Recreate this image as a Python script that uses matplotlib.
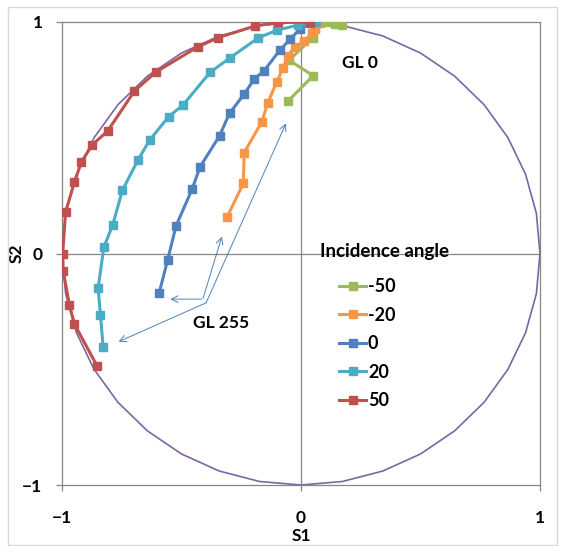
import numpy as np
import matplotlib.pyplot as plt
from matplotlib.patches import Rectangle

plt.rcParams['font.family'] = ['Lato', 'DejaVu Sans']
plt.rcParams['font.weight'] = 'bold'

# incidence angles and their series colours
angles = ['-50', '-20', '0', '20', '50']
colors = ['#9BBB59', '#F79646', '#4F81BD', '#4BACC6', '#C0504D']

# S1 / S2 per incidence angle, from GL 0 (top) to GL 255
s1_m50 = [0.172, 0.142, 0.107, 0.08, 0.06, 0.05, -0.05, 0.051, -0.053]
s2_m50 = [0.987, 0.993, 0.998, 0.995, 0.97, 0.933, 0.835, 0.768, 0.66]

s1_m20 = [0.072, 0.058, 0.045, 0.014, -0.025, -0.056, -0.074, -0.101, -0.139, -0.164, -0.238, -0.241, -0.310]
s2_m20 = [0.997, 0.973, 0.951, 0.919, 0.893, 0.853, 0.803, 0.742, 0.651, 0.569, 0.435, 0.303, 0.156]

s1_0 = [0.038, -0.004, -0.046, -0.088, -0.154, -0.196, -0.238, -0.299, -0.341, -0.422, -0.456, -0.523, -0.558, -0.593]
s2_0 = [0.994, 0.970, 0.925, 0.879, 0.790, 0.753, 0.688, 0.606, 0.508, 0.375, 0.277, 0.119, -0.028, -0.169]

s1_20 = [0.061, -0.011, -0.099, -0.178, -0.296, -0.380, -0.494, -0.554, -0.633, -0.682, -0.747, -0.788, -0.825, -0.849, -0.839, -0.828]
s2_20 = [0.999, 0.987, 0.965, 0.932, 0.846, 0.783, 0.641, 0.591, 0.490, 0.404, 0.274, 0.123, 0.027, -0.150, -0.266, -0.403]

s1_50 = [0.037, -0.096, -0.192, -0.348, -0.431, -0.607, -0.697, -0.809, -0.874, -0.919, -0.948, -0.985, -0.997, -0.995, -0.969, -0.948, -0.853]
s2_50 = [1.000, 0.998, 0.983, 0.932, 0.893, 0.784, 0.702, 0.529, 0.469, 0.395, 0.308, 0.180, 0.000, -0.076, -0.222, -0.305, -0.486]

series_s1 = [s1_m50, s1_m20, s1_0, s1_20, s1_50]
series_s2 = [s2_m50, s2_m20, s2_0, s2_20, s2_50]

# unit circle reference, one vertex every 10 degrees
circle_deg = np.arange(0, 361, 10)

fig = plt.figure(figsize=(5.65, 5.46), dpi=100)
ax = fig.add_axes([62 / 565, 1 - 485 / 546, 478 / 565, 463 / 546])

grey = '#868686'
ax.plot(np.cos(np.radians(circle_deg)), np.sin(np.radians(circle_deg)),
        color='#8064A2', lw=1.2, zorder=2)

for s1, s2, lab, c in zip(series_s1, series_s2, angles, colors):
    ax.plot(s1, s2, color=c, lw=2.2, marker='s', markersize=5.8,
            label=lab, zorder=3)

ax.axhline(0, color=grey, lw=0.9, zorder=1)
ax.axvline(0, color=grey, lw=0.9, zorder=1)

ax.set_xlim(-1, 1)
ax.set_ylim(-1, 1)
ax.set_xticks([-1, 0, 1])
ax.set_yticks([-1, 0, 1])
for sp in ax.spines.values():
    sp.set_color(grey)
    sp.set_linewidth(0.9)
ax.tick_params(axis='both', direction='out', length=4, width=0.9, color=grey,
               labelsize=12.5)
ax.tick_params(axis='y', pad=10)
ax.tick_params(axis='x', pad=14)

ax.set_xlabel('S1', fontsize=12.5, fontweight='bold')
ax.set_ylabel('S2', fontsize=12.5, fontweight='bold')
ax.xaxis.set_label_coords(0.5, (485 - 536) / 463)
ax.yaxis.set_label_coords((17 - 62) / 478, 0.5)
ax.xaxis.label.set_va('center')
ax.yaxis.label.set_va('center')

# annotations
ax.text(0.246, 0.823, 'GL 0', fontsize=12.5, ha='center', va='center')
ax.text(-0.334, -0.30, 'GL 255', fontsize=12.5, ha='center', va='center')
arrow_kw = dict(arrowstyle='->', color='#4F81BD', lw=0.7, shrinkA=0, shrinkB=0,
                mutation_scale=12)
ax.annotate('', xy=(-0.547, -0.197), xytext=(-0.415, -0.197), arrowprops=arrow_kw)
ax.annotate('', xy=(-0.331, 0.073), xytext=(-0.410, -0.194), arrowprops=arrow_kw)
ax.annotate('', xy=(-0.763, -0.381), xytext=(-0.397, -0.213), arrowprops=arrow_kw)
ax.annotate('', xy=(-0.063, 0.562), xytext=(-0.397, -0.213), arrowprops=arrow_kw)

ax.text(0.079, 0.01, 'Incidence angle', fontsize=13.5, ha='left', va='center')
ax.legend(loc='upper left', bbox_to_anchor=(339 / 565, 1 - 278 / 546),
          bbox_transform=fig.transFigure, frameon=False, fontsize=13,
          handlelength=1.5, handletextpad=0.1, labelspacing=0.64,
          borderpad=0, borderaxespad=0)

fig.patches.append(Rectangle((8 / 565, 1 - 545 / 546), 549 / 565, 538 / 546,
                             transform=fig.transFigure, fill=False,
                             edgecolor='#D9D9D9', lw=1))

fig.savefig('out.png', dpi=100)
